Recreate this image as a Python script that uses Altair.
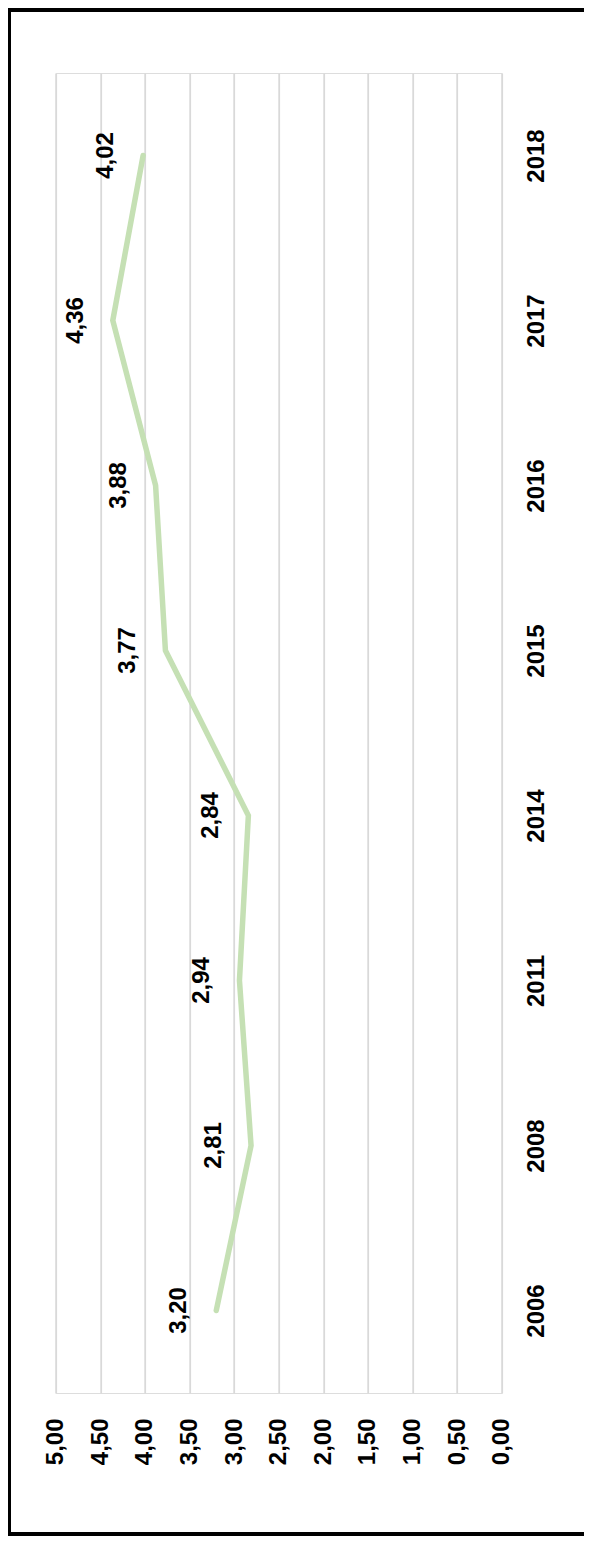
import altair as alt
import pandas as pd

years = ["2006", "2008", "2011", "2014", "2015", "2016", "2017", "2018"]
values = [3.20, 2.81, 2.94, 2.84, 3.77, 3.88, 4.36, 4.02]
tick_values = [0, 0.5, 1, 1.5, 2, 2.5, 3, 3.5, 4, 4.5, 5]

df = pd.DataFrame({"year": years, "value": values})

FONT = "Liberation Sans"
FS = 24
W, H = 446, 1320
PAD_L, PAD_T, PAD_B = 47.7, 65, 143
SVG_W = 576

y_enc = alt.Y(
    "year:O",
    sort=list(reversed(years)),
    scale=alt.Scale(type="point", padding=0.5),
    axis=alt.Axis(
        orient="right", title=None, labelAngle=-90, labelAlign="center",
        labelBaseline="top", labelFont=FONT, labelFontSize=FS,
        labelFontWeight="bold", labelColor="black", ticks=False,
        domain=False, grid=False, labelPadding=23,
    ),
)
x_enc = alt.X(
    "value:Q",
    scale=alt.Scale(domain=[0, 5], reverse=True, nice=False, zero=False),
    axis=alt.Axis(
        orient="bottom", title=None, values=tick_values, labelAngle=-90,
        labelAlign="right", labelBaseline="middle", labelFont=FONT,
        labelFontSize=FS, labelFontWeight="bold", labelColor="black",
        labelExpr="replace(format(datum.value, '.2f'), '.', ',')",
        ticks=False, domain=False, grid=True, gridColor="#d9d9d9",
        gridWidth=1.8, labelPadding=25, labelOverlap=False,
    ),
)

base = alt.Chart(df)

frame = alt.Chart(alt.Data(values=[{"f": 1}])).mark_rect(
    fillOpacity=0, stroke="black", strokeWidth=4
).encode(
    x=alt.value(-PAD_L + 1), x2=alt.value(W + 200),
    y=alt.value(-PAD_T + 2), y2=alt.value(H + PAD_B - 2),
)

line = base.mark_line(color="#c5e0b4", strokeWidth=5.5, strokeCap="round").encode(
    x=x_enc, y=y_enc
)

labels = base.transform_calculate(
    lbl="replace(format(datum.value, '.2f'), '.', ',')"
).mark_text(
    angle=270, align="center", baseline="middle", dy=-37,
    font=FONT, fontSize=FS, fontWeight="bold", color="black",
).encode(x=x_enc, y=y_enc, text="lbl:N")

chart = (frame + line + labels).properties(
    width=W,
    height=H,
    padding={"left": PAD_L, "top": PAD_T, "right": SVG_W - PAD_L - W, "bottom": PAD_B},
    autosize=alt.AutoSizeParams(type="none"),
).configure_view(stroke="transparent").configure(background="white")

chart.save("out.html", embed_options={"renderer": "svg", "actions": False})
